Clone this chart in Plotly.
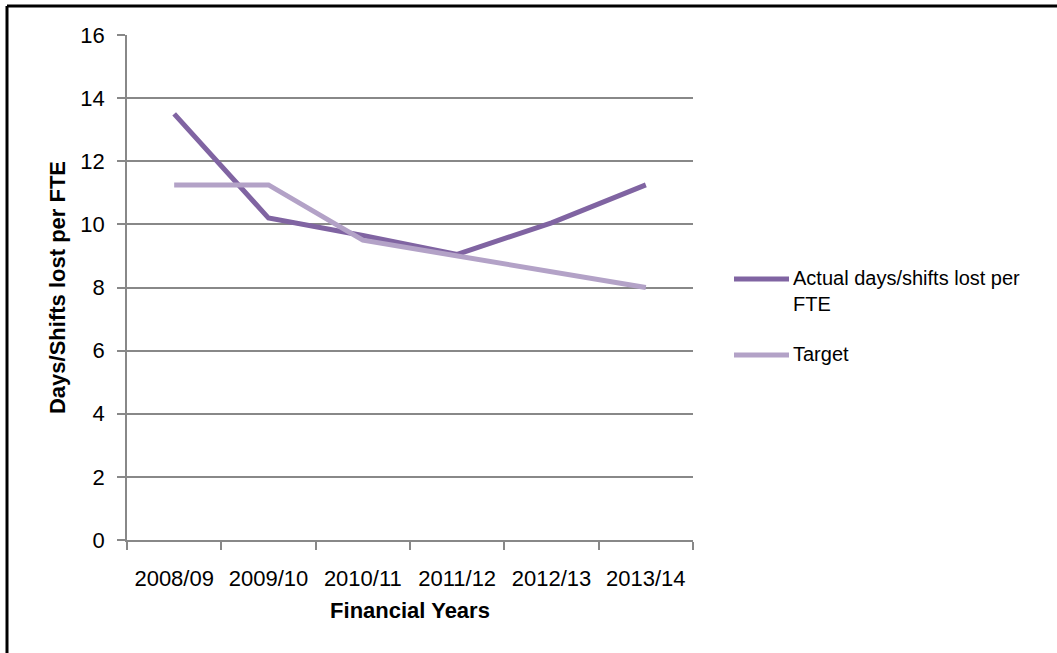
import plotly.graph_objects as go

# Sickness absence: days/shifts lost per FTE by financial year
years = ["2008/09", "2009/10", "2010/11", "2011/12", "2012/13", "2013/14"]
actual = [13.5, 10.2, 9.65, 9.05, 10.05, 11.25]
target = [11.25, 11.25, 9.5, 9.0, 8.5, 8.0]

series_names = ["Actual days/shifts lost per<br>FTE", "Target"]
series_colors = ["#8064A2", "#B3A2C7"]

W, H = 1057, 653
L, R, T, B = 127, 693, 35, 540  # plot area edges in pixels
FONT = "Liberation Sans, Arial, sans-serif"
FS = 22
LEGEND_FS = 20
GRID = "#888888"


def px_x(p):
    return (p - L) / (R - L)


def px_y(p):
    return (B - p) / (B - T)


fig = go.Figure()
for vals, name, col in zip([actual, target], series_names, series_colors):
    fig.add_trace(go.Scatter(
        x=years, y=vals, mode="lines", name=name,
        line=dict(color=col, width=5), showlegend=False,
    ))

shapes = [
    # outer frame (left and top edges)
    dict(type="line", xref="paper", yref="paper",
         x0=px_x(7), x1=px_x(7), y0=px_y(6), y1=px_y(700),
         line=dict(color="black", width=3)),
    dict(type="line", xref="paper", yref="paper",
         x0=px_x(7), x1=px_x(1100), y0=px_y(6), y1=px_y(6),
         line=dict(color="black", width=3)),
]
annotations = []

# legend
legend_rows = [279, 355]
for name, col, ly in zip(series_names, series_colors, legend_rows):
    shapes.append(dict(type="line", xref="paper", yref="paper",
                       x0=px_x(734), x1=px_x(789), y0=px_y(ly), y1=px_y(ly),
                       line=dict(color=col, width=5)))
    annotations.append(dict(xref="paper", yref="paper", x=px_x(791), y=px_y(ly - 14),
                            text=name, showarrow=False, xanchor="left", yanchor="top",
                            align="left",
                            font=dict(family=FONT, size=LEGEND_FS, color="black")))

fig.update_layout(
    width=W, height=H,
    margin=dict(l=L, r=W - R, t=T, b=H - B, pad=0),
    paper_bgcolor="white", plot_bgcolor="white",
    font=dict(family=FONT, size=FS, color="black"),
    shapes=shapes, annotations=annotations,
    xaxis=dict(
        type="category", range=[-0.5, 5.5], tickson="boundaries",
        ticks="outside", ticklen=8, tickwidth=1.5, tickcolor=GRID,
        showline=True, linecolor=GRID, linewidth=1.5, showgrid=False,
        tickangle=0, ticklabelstandoff=18,
        title=dict(text="<b>Financial Years</b>", standoff=12,
                   font=dict(family=FONT, size=FS)),
    ),
    yaxis=dict(
        range=[0, 16], dtick=2, ticks="outside", ticklen=8, tickwidth=1.5,
        tickcolor=GRID, showline=True, linecolor=GRID, linewidth=1.5,
        showgrid=True, gridcolor=GRID, gridwidth=1.5, zeroline=False,
        ticklabelstandoff=8,
        title=dict(text="<b>Days/Shifts lost per FTE</b>", standoff=9,
                   font=dict(family=FONT, size=FS)),
    ),
)

fig.write_html("out.html")
